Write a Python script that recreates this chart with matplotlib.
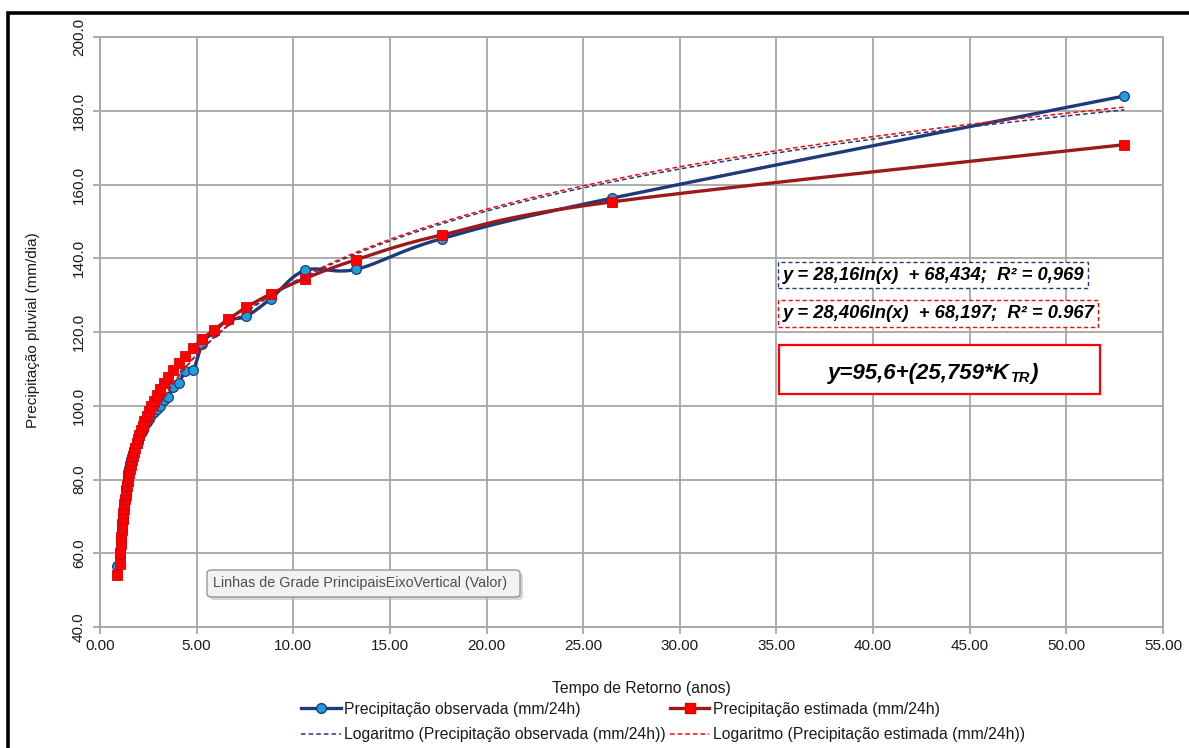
import numpy as np
import matplotlib
matplotlib.use('Agg')
import matplotlib.pyplot as plt
from matplotlib.lines import Line2D
from matplotlib.patches import Rectangle, FancyBboxPatch

plt.rcParams['font.family'] = ['Liberation Sans', 'DejaVu Sans']

#---DATA
tempo_retorno = [53.00, 26.50, 17.67, 13.25, 10.60, 8.83, 7.57, 6.63, 5.89, 5.30,
                 4.82, 4.42, 4.08, 3.79, 3.53, 3.31, 3.12, 2.94, 2.79, 2.65,
                 2.52, 2.41, 2.30, 2.21, 2.12, 2.04, 1.96, 1.89, 1.83, 1.77,
                 1.71, 1.66, 1.61, 1.56, 1.51, 1.47, 1.43, 1.39, 1.36, 1.33,
                 1.29, 1.26, 1.23, 1.20, 1.18, 1.15, 1.13, 1.10, 1.08, 1.06,
                 1.02, 0.90]

prec_observada = [184.0, 156.3, 145.3, 137.0, 136.7, 129.0, 124.3, 123.2, 120.0, 116.8,
                  109.6, 109.4, 106.2, 105.2, 102.5, 101.5, 100.0, 99.0, 98.3, 97.5,
                  96.5, 95.5, 94.6, 93.5, 92.5, 91.5, 90.5, 89.6, 88.8, 88.0,
                  87.3, 86.5, 85.6, 84.5, 83.0, 82.0, 81.0, 79.2, 77.5, 76.0,
                  74.5, 73.0, 72.0, 70.5, 69.0, 67.8, 66.3, 64.6, 63.0, 61.0,
                  59.0, 56.6]

prec_estimada = [170.8, 155.3, 146.3, 139.6, 134.5, 130.3, 126.7, 123.4, 120.6, 118.1,
                 115.7, 113.5, 111.5, 109.6, 107.8, 106.1, 104.5, 102.9, 101.4, 100.0,
                 98.6, 97.2, 95.9, 94.6, 93.4, 92.2, 91.0, 89.8, 88.6, 87.4,
                 86.3, 85.2, 84.0, 82.9, 81.7, 80.6, 79.5, 78.3, 77.1, 75.9,
                 74.7, 73.4, 72.1, 70.8, 69.3, 67.8, 66.2, 64.4, 62.4, 60.1,
                 57.2, 54.0]

# trend lines: y = a*ln(x) + b
log_obs = (28.16, 68.434)
log_est = (28.406, 68.197)

eq_obs = "y = 28,16ln(x)  + 68,434;  R² = 0,969"
eq_est = "y = 28,406ln(x)  + 68,197;  R² = 0.967"

W, H = 1189, 748


def fx(px):
    return px / W


def fy(py):
    return 1 - py / H


def smooth(x, y, sx=19.33, sy=3.6875, n=24):
    # bezier smoothing like the spreadsheet "smoothed line"
    P = np.column_stack([np.asarray(x) * sx, np.asarray(y) * sy])
    pts = []
    t = np.linspace(0, 1, n)[:, None]
    for i in range(len(P) - 1):
        p0 = P[i - 1] if i > 0 else P[i]
        p1, p2 = P[i], P[i + 1]
        p3 = P[i + 2] if i + 2 < len(P) else P[i + 1]
        c1 = p1 + (p2 - p0) / 6.0
        c2 = p2 - (p3 - p1) / 6.0
        seg = (1 - t)**3 * p1 + 3 * (1 - t)**2 * t * c1 + 3 * (1 - t) * t**2 * c2 + t**3 * p2
        pts.append(seg)
    pts = np.vstack(pts)
    return pts[:, 0] / sx, pts[:, 1] / sy


navy = '#1F3A7A'
lightblue = '#1E9FDB'
darkred = '#9B1B1B'
red = '#FF0000'
grid_c = '#A6A6A6'
txt_c = '#1A1A1A'

fig = plt.figure(figsize=(W / 100, H / 100), dpi=100)
ax = fig.add_axes([fx(100), fy(627), fx(1163) - fx(100), fy(37) - fy(627)])

x = np.array(tempo_retorno)
order = np.argsort(x)
xs = x[order]
obs = np.array(prec_observada)[order]
est = np.array(prec_estimada)[order]

# observed
sx_, sy_ = smooth(xs, obs)
ax.plot(sx_, sy_, color=navy, lw=2.4, zorder=3, solid_capstyle='round')
ax.plot(xs, obs, ls='none', marker='o', ms=7, mfc=lightblue, mec=navy, mew=0.9, zorder=4)

# estimated
sx_, sy_ = smooth(xs, est)
ax.plot(sx_, sy_, color=darkred, lw=2.4, zorder=5, solid_capstyle='round')
ax.plot(xs, est, ls='none', marker='s', ms=7.5, mfc=red, mec='#E00000', mew=0.6, zorder=6)

# log trend lines
xt = np.linspace(xs.min(), xs.max(), 400)
ax.plot(xt, log_obs[0] * np.log(xt) + log_obs[1], color=navy, lw=1.1, ls=(0, (3, 2)), zorder=7)
ax.plot(xt, log_est[0] * np.log(xt) + log_est[1], color=red, lw=1.1, ls=(0, (3, 2)), zorder=7)

ax.set_xlim(0, 55)
ax.set_ylim(40, 200)
ax.set_xticks(np.arange(0, 56, 5))
ax.set_yticks(np.arange(40, 201, 20))
ax.set_xticklabels(['%.2f' % v for v in np.arange(0, 56, 5)])
ax.set_yticklabels(['%.1f' % v for v in np.arange(40, 201, 20)], rotation=90, va='center')
ax.grid(True, color=grid_c, lw=1.3, zorder=0)
for s in ax.spines.values():
    s.set_color(grid_c)
    s.set_linewidth(1.3)
ax.tick_params(axis='both', direction='out', length=5, width=1.3, color=grid_c,
               labelsize=11, labelcolor=txt_c)
ax.tick_params(axis='x', pad=4)
ax.tick_params(axis='y', pad=5)
ax.set_axisbelow(True)

fig.text(fx(33), fy(330), 'Precipitação pluvial (mm/dia)', rotation=90, ha='center', va='center',
         fontsize=11, color=txt_c)
fig.text(fx(641), fy(688), 'Tempo de Retorno (anos)', ha='center', va='center', fontsize=11.3, color=txt_c)

# equation boxes
fig.patches.append(Rectangle((fx(778), fy(288)), fx(1088) - fx(778), fy(262) - fy(288),
                             transform=fig.transFigure, fc='white', ec=navy, lw=1.0, ls=(0, (3, 2))))
fig.text(fx(783), fy(275.5), eq_obs, ha='left', va='center', fontsize=13.2, fontweight='bold',
         fontstyle='italic', color='black')
fig.patches.append(Rectangle((fx(778), fy(327)), fx(1098) - fx(778), fy(300) - fy(327),
                             transform=fig.transFigure, fc='white', ec=red, lw=1.0, ls=(0, (3, 2))))
fig.text(fx(783), fy(314), eq_est, ha='left', va='center', fontsize=13.2, fontweight='bold',
         fontstyle='italic', color='black')
fig.patches.append(Rectangle((fx(779), fy(394)), fx(1100) - fx(779), fy(345) - fy(394),
                             transform=fig.transFigure, fc='white', ec=red, lw=1.6))
eq_style = dict(fontweight='bold', fontstyle='italic', color='black')
t1 = fig.text(fx(828), fy(379), 'y=95,6+(25,759*K', ha='left', va='baseline', fontsize=16, **eq_style)
fig.canvas.draw()
r = fig.canvas.get_renderer()
bb1 = t1.get_window_extent(r)
t2 = fig.text(bb1.x1 / W + fx(1), fy(379 + 3), 'TR', ha='left', va='baseline', fontsize=10.5, **eq_style)
bb2 = t2.get_window_extent(r)
fig.text(bb2.x1 / W + fx(1), fy(379), ')', ha='left', va='baseline', fontsize=16, **eq_style)

# tooltip
fig.patches.append(FancyBboxPatch((fx(210), fy(600)), fx(523) - fx(210), fy(573) - fy(600),
                                  boxstyle='round,pad=0,rounding_size=0.004', transform=fig.transFigure,
                                  fc='#BBBBBB', ec='none', alpha=0.6))
fig.patches.append(FancyBboxPatch((fx(207), fy(597)), fx(520) - fx(207), fy(570) - fy(597),
                                  boxstyle='round,pad=0,rounding_size=0.004', transform=fig.transFigure,
                                  fc='#F2F2F2', ec='#8C8C8C', lw=0.9))
fig.text(fx(213), fy(583.5), 'Linhas de Grade PrincipaisEixoVertical (Valor)', ha='left', va='center',
         fontsize=10.3, color='#4D4D4D')

# legend
handles = [
    Line2D([], [], color=navy, lw=2.4, marker='o', ms=7, mfc=lightblue, mec=navy),
    Line2D([], [], color=navy, lw=1.1, ls=(0, (3, 2))),
    Line2D([], [], color=darkred, lw=2.4, marker='s', ms=7, mfc=red, mec='#E00000'),
    Line2D([], [], color=red, lw=1.1, ls=(0, (3, 2))),
]
labels = ['Precipitação observada (mm/24h)', 'Logaritmo (Precipitação observada (mm/24h))',
          'Precipitação estimada (mm/24h)', 'Logaritmo (Precipitação estimada (mm/24h))']
fig.legend(handles, labels, ncol=2, loc='center', bbox_to_anchor=(fx(663), fy(722)),
           frameon=False, fontsize=11.3, handlelength=2.5, handletextpad=0.2,
           columnspacing=0.3, labelspacing=0.7, labelcolor=txt_c)

# outer frame
fig.patches.append(Rectangle((fx(8), -0.05), 1.1, fy(13) + 0.05, transform=fig.transFigure,
                             fill=False, ec='black', lw=2.6))

fig.savefig('out.png', dpi=100)
